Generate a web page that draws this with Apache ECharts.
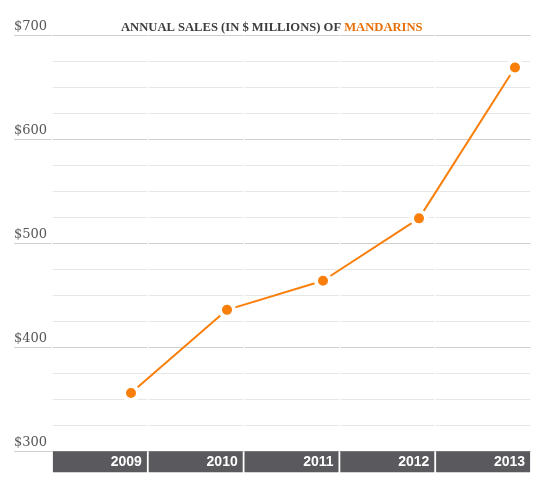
<!DOCTYPE html>
<html>
<head>
<meta charset="utf-8">
<script src="https://cdn.jsdelivr.net/npm/echarts@6/dist/echarts.min.js"></script>
<style>
html, body { margin: 0; padding: 0; background: #fff; }
#main { width: 545px; height: 503px; }
</style>
</head>
<body>
<div id="main"></div>
<script>
var years = ['2009', '2010', '2011', '2012', '2013'];
var sales = [356, 436, 464, 524, 669];
var yMin = 300;
var yMax = 700;

var myChart = echarts.init(document.getElementById('main'));

var option = {
	animation: false,
	backgroundColor: '#fff',
	title: {
		left: 116,
		top: 16,
		text: '{a|ANNUAL SALES (IN $ MILLIONS) OF }{b|MANDARINS}',
		textStyle: {
			rich: {
				a: { fontFamily: 'Liberation Serif', fontSize: 12.6, color: '#3d3d3d' },
				b: { fontFamily: 'Liberation Serif', fontSize: 12.6, color: '#e8700a' }
			}
		}
	},
	grid: [
		// major lines + $ labels
		{ left: 14, right: 14, top: 35.3, bottom: 51.7 },
		// minor lines + year band
		{ left: 52, right: 14, top: 35.3, bottom: 51.7 },
		// the line itself
		{ left: 131, right: 30, top: 35.3, bottom: 51.7 }
	],
	xAxis: [
		{ gridIndex: 0, type: 'category', data: years, show: false },
		{
			gridIndex: 1,
			type: 'category',
			data: years,
			boundaryGap: true,
			z: 2,
			axisLine: { show: false },
			axisTick: { show: false },
			axisLabel: {
				interval: 0,
				margin: 0,
				verticalAlign: 'top',
				formatter: '{y|{value}}',
				rich: {
					y: { width: 89, height: 21, lineHeight: 21, padding: [0, 5, 0, 0],
						align: 'right', backgroundColor: '#5a5a5e',
						color: '#fff', fontWeight: 'bold',
						fontFamily: 'Liberation Sans', fontSize: 14 }
				}
			},
			splitLine: { show: true, interval: 0, lineStyle: { color: '#fff', width: 1.5 } }
		},
		{ gridIndex: 2, type: 'category', data: years, boundaryGap: false, show: false }
	],
	yAxis: [
		{
			gridIndex: 0,
			type: 'value',
			min: yMin,
			max: yMax,
			interval: 100,
			z: 1,
			axisLine: { show: false },
			axisTick: { show: false },
			axisLabel: {
				inside: true,
				margin: 0,
				verticalAlign: 'bottom',
				padding: [0, 0, 2, 0],
				color: '#555',
				fontFamily: 'DejaVu Serif',
				fontSize: 13,
				formatter: function (v) { return '$' + v; }
			},
			splitLine: { lineStyle: { color: '#cfcfcf', width: 1 } }
		},
		{
			gridIndex: 1,
			type: 'value',
			min: yMin,
			max: yMax,
			interval: 25,
			axisLine: { show: false },
			axisTick: { show: false },
			axisLabel: { show: false },
			splitLine: { lineStyle: { color: '#e7e7e7', width: 1 } }
		},
		{ gridIndex: 2, type: 'value', min: yMin, max: yMax, show: false }
	],
	series: [
		{
			name: 'Mandarins',
			type: 'line',
			xAxisIndex: 2,
			yAxisIndex: 2,
			z: 5,
			data: sales,
			symbol: 'circle',
			symbolSize: 14,
			lineStyle: { color: '#f97f0a', width: 2 },
			itemStyle: { color: '#f97f0a', borderColor: '#fff', borderWidth: 4 }
		}
	]
};

myChart.setOption(option);
</script>
</body>
</html>
